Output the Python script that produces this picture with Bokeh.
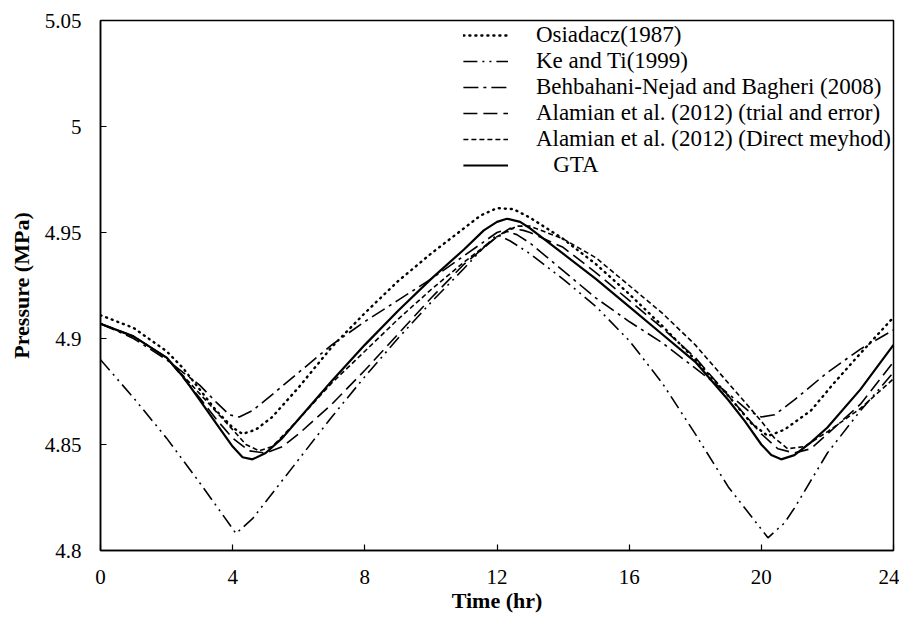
from bokeh.plotting import figure
from bokeh.models import FixedTicker, Legend, LegendItem, Range1d
from bokeh.embed import file_html
from bokeh.resources import INLINE

# ---------------- data ----------------
t_osi = [0, 1, 2, 2.5, 3, 3.5, 4, 4.3, 4.7, 5.2, 6, 7, 8, 9, 10, 11, 11.5, 12, 12.5,
         13, 14, 15, 16, 17, 18, 19, 19.7, 20.2, 20.7, 21.5, 22.2, 23, 24]
p_osi = [4.911, 4.905, 4.894, 4.886, 4.876, 4.866, 4.858, 4.855, 4.857, 4.863, 4.877, 4.896, 4.912,
         4.927, 4.940, 4.952, 4.958, 4.9615, 4.961,
         4.957, 4.947, 4.935, 4.921, 4.906, 4.890, 4.873, 4.860, 4.854, 4.857, 4.866, 4.879, 4.893, 4.910]

t_ke = [0, 1, 2, 3, 3.6, 4.1, 4.6, 5, 6, 7, 8, 9, 10, 11, 11.6, 12, 12.4,
        13, 14, 15, 16, 17, 18, 19, 20.2, 20.7, 21, 22, 23, 24]
p_ke = [4.890, 4.872, 4.853, 4.832, 4.819, 4.808, 4.815, 4.823, 4.843, 4.863, 4.882, 4.900, 4.917,
        4.933, 4.943, 4.949, 4.946,
        4.940, 4.928, 4.915, 4.899, 4.879, 4.855, 4.830, 4.806, 4.813, 4.820, 4.846, 4.866, 4.884]

t_beh = [0, 1, 2, 3, 3.5, 3.9, 4.2, 4.6, 5, 6, 7, 8, 9, 10, 11, 12, 12.2, 12.6,
         13, 14, 15, 16, 17, 18, 19, 19.6, 20, 20.4, 21, 22, 23, 24]
p_beh = [4.907, 4.900, 4.890, 4.878, 4.870, 4.864, 4.863, 4.866, 4.871, 4.884, 4.897, 4.908, 4.918,
         4.928, 4.939, 4.950, 4.951, 4.949,
         4.945, 4.932, 4.919, 4.908, 4.898, 4.886, 4.874, 4.866, 4.863, 4.864, 4.871, 4.884, 4.895, 4.904]

t_tri = [0, 1, 2, 3, 3.5, 4, 4.5, 5, 5.5, 6, 7, 8, 9, 10, 11, 12, 12.4, 12.8,
         13, 14, 15, 16, 17, 18, 19, 20, 20.5, 21, 21.5, 22, 23, 24]
p_tri = [4.907, 4.901, 4.891, 4.872, 4.862, 4.853, 4.847, 4.846, 4.849, 4.855, 4.869, 4.885, 4.902,
         4.919, 4.935, 4.948, 4.952, 4.951,
         4.950, 4.943, 4.931, 4.918, 4.905, 4.891, 4.873, 4.855, 4.848, 4.846, 4.848, 4.855, 4.869, 4.889]

t_dir = [0, 1, 2, 3, 4, 4.4, 4.8, 5.2, 6, 7, 8, 9, 10, 11, 12, 12.6,
         13, 14, 15, 16, 17, 18, 19, 20, 20.4, 20.8, 21.3, 22, 23, 24]
p_dir = [4.907, 4.901, 4.891, 4.874, 4.857, 4.850, 4.847, 4.849, 4.862, 4.879, 4.894, 4.909, 4.923,
         4.936, 4.948, 4.953,
         4.953, 4.947, 4.938, 4.925, 4.912, 4.897, 4.879, 4.861, 4.853, 4.848, 4.849, 4.856, 4.867, 4.881]

t_gta = [0, 1, 2, 2.5, 3, 3.5, 4, 4.3, 4.6, 5, 5.5, 6, 7, 8, 9, 10, 11, 11.6, 12, 12.3, 12.7,
         13, 14, 15, 16, 17, 18, 19, 19.5, 20, 20.3, 20.6, 21, 21.5, 22, 23, 24]
p_gta = [4.907, 4.901, 4.891, 4.882, 4.871, 4.860, 4.849, 4.844, 4.843, 4.846, 4.853, 4.862, 4.880,
         4.897, 4.913, 4.928, 4.942, 4.951, 4.955, 4.9565, 4.955,
         4.952, 4.940, 4.928, 4.915, 4.902, 4.889, 4.871, 4.861, 4.850, 4.845, 4.843, 4.845, 4.851,
         4.858, 4.876, 4.897]

labels = ["Osiadacz(1987)", "Ke and Ti(1999)", "Behbahani-Nejad and Bagheri (2008)",
          "Alamian et al. (2012) (trial and error)", "Alamian et al. (2012) (Direct meyhod)",
          "\u00a0\u00a0\u00a0GTA"]

x_ticks = [0, 4, 8, 12, 16, 20, 24]
y_ticks = [4.8, 4.85, 4.9, 4.95, 5.0, 5.05]
y_tick_labels = ["4.8", "4.85", "4.9", "4.95", "5", "5.05"]

# ---------------- figure ----------------
FONT = "Liberation Serif"
p = figure(width=899, height=619, output_backend="svg", toolbar_location=None,
           x_range=Range1d(0, 24), y_range=Range1d(4.8, 5.05),
           min_border_left=100, min_border_right=6, min_border_top=20, min_border_bottom=69)
p.background_fill_color = "white"
p.border_fill_color = "white"
p.outline_line_color = "black"
p.outline_line_width = 1.5
p.xgrid.visible = False
p.ygrid.visible = False

for ax in (p.xaxis[0], p.yaxis[0]):
    ax.axis_line_color = "black"
    ax.axis_line_width = 1.5
    ax.major_tick_in = 6
    ax.major_tick_out = 0
    ax.major_tick_line_color = "black"
    ax.major_tick_line_width = 1.2
    ax.minor_tick_line_color = None
    ax.major_label_text_font = FONT
    ax.major_label_text_font_size = "21px"
    ax.major_label_text_color = "black"
    ax.axis_label_text_font = FONT
    ax.axis_label_text_font_size = "22px"
    ax.axis_label_text_font_style = "bold"
    ax.axis_label_text_color = "black"

p.xaxis.ticker = FixedTicker(ticks=x_ticks)
p.yaxis.ticker = FixedTicker(ticks=y_ticks)
p.yaxis.major_label_overrides = {v: s for v, s in zip(y_ticks, y_tick_labels)}
p.xaxis.major_label_standoff = 19
p.yaxis.major_label_standoff = 19
p.xaxis.axis_label = "Time (hr)"
p.yaxis.axis_label = "Pressure (MPa)"
p.xaxis.axis_label_standoff = 1
p.yaxis.axis_label_standoff = 8

r_osi = p.line(t_osi, p_osi, line_color="black", line_width=2.4, line_dash="1 5", line_cap="round")
r_ke = p.line(t_ke, p_ke, line_color="black", line_width=1.6, line_dash="14 5 2 5 2 5")
r_beh = p.line(t_beh, p_beh, line_color="black", line_width=1.6, line_dash="15 5 3 5")
r_tri = p.line(t_tri, p_tri, line_color="black", line_width=1.6, line_dash="14 6")
r_dir = p.line(t_dir, p_dir, line_color="black", line_width=1.6, line_dash="5 3")
r_gta = p.line(t_gta, p_gta, line_color="black", line_width=2.2)

legend = Legend(items=[LegendItem(label=l, renderers=[r]) for l, r in
                       zip(labels, [r_osi, r_ke, r_beh, r_tri, r_dir, r_gta])],
                location="top_right")
legend.border_line_color = None
legend.background_fill_alpha = 0
legend.label_text_font = FONT
legend.label_text_font_size = "23px"
legend.label_text_color = "black"
legend.glyph_width = 45
legend.glyph_height = 20
legend.label_height = 20
legend.spacing = -8
legend.label_standoff = 28
legend.padding = 1
legend.margin = 2
p.add_layout(legend)

open("out.html", "w").write(file_html(p, INLINE))
